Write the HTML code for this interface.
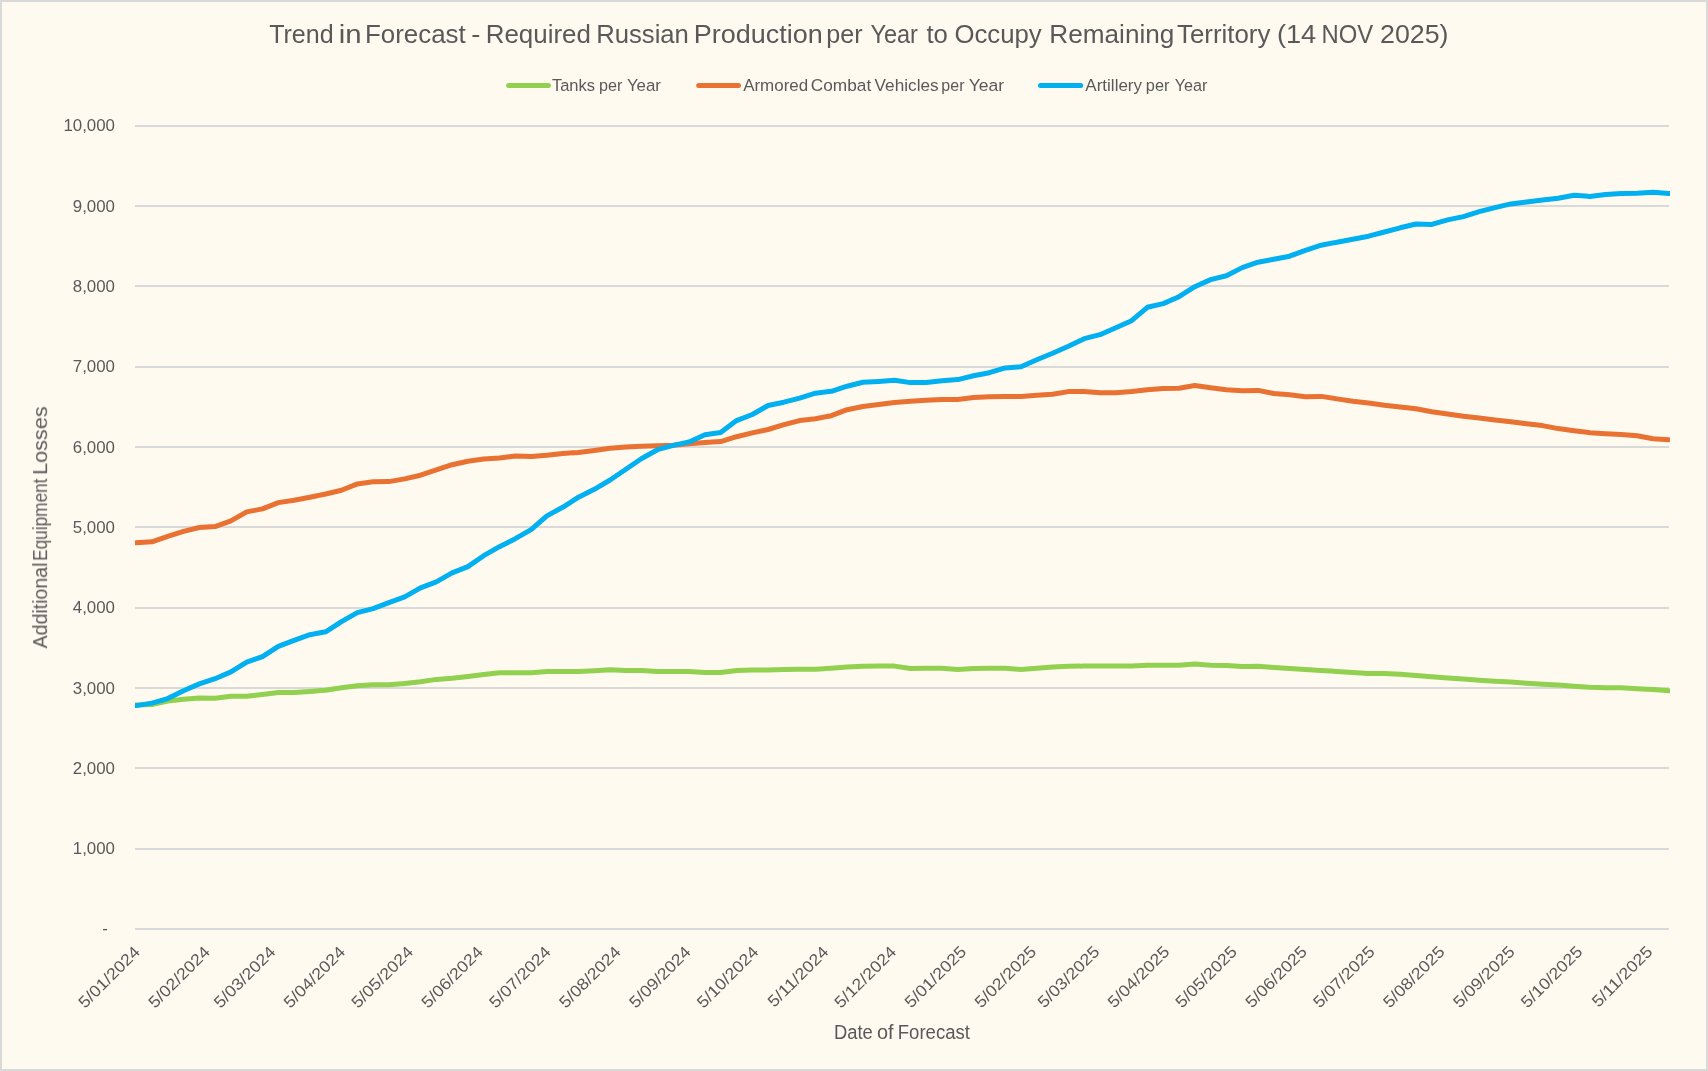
<!DOCTYPE html>
<html lang="en"><head><meta charset="utf-8"><title>Trend in Forecast</title>
<style>
html,body{margin:0;padding:0;background:#FFFAEF;}
body{width:1708px;height:1071px;overflow:hidden;}
svg{display:block;}
text{font-family:"Liberation Sans", sans-serif;fill:#595959;}
.ax{font-size:16.3px;}
.at{font-size:20.0px;}
.ti{font-size:26.6px;}
</style></head><body>
<svg width="1708" height="1071" viewBox="0 0 1708 1071">
<rect x="0" y="0" width="1708" height="1071" fill="#FFFAEF"/>
<rect x="1" y="1" width="1706" height="1069" fill="none" stroke="#D9D9D9" stroke-width="2"/>
<defs><clipPath id="plot"><rect x="135.0" y="100" width="1534.9" height="860"/></clipPath></defs>
<g opacity="0.999">
<text class="ti" y="42.5"><tspan x="269.14" textLength="64.48" lengthAdjust="spacingAndGlyphs">Trend</tspan> <tspan x="338.83" textLength="22.87" lengthAdjust="spacingAndGlyphs">in</tspan> <tspan x="364.98" textLength="100.71" lengthAdjust="spacingAndGlyphs">Forecast</tspan> <tspan x="471.28" textLength="9.14" lengthAdjust="spacingAndGlyphs">-</tspan> <tspan x="485.67" textLength="105.20" lengthAdjust="spacingAndGlyphs">Required</tspan> <tspan x="596.20" textLength="92.67" lengthAdjust="spacingAndGlyphs">Russian</tspan> <tspan x="693.79" textLength="128.96" lengthAdjust="spacingAndGlyphs">Production</tspan> <tspan x="826.28" textLength="36.34" lengthAdjust="spacingAndGlyphs">per</tspan> <tspan x="870.38" textLength="47.51" lengthAdjust="spacingAndGlyphs">Year</tspan> <tspan x="926.41" textLength="21.47" lengthAdjust="spacingAndGlyphs">to</tspan> <tspan x="954.38" textLength="87.37" lengthAdjust="spacingAndGlyphs">Occupy</tspan> <tspan x="1049.35" textLength="125.03" lengthAdjust="spacingAndGlyphs">Remaining</tspan> <tspan x="1177.02" textLength="93.33" lengthAdjust="spacingAndGlyphs">Territory</tspan> <tspan x="1277.02" textLength="39.17" lengthAdjust="spacingAndGlyphs">(14</tspan> <tspan x="1321.44" textLength="51.66" lengthAdjust="spacingAndGlyphs">NOV</tspan> <tspan x="1380.05" textLength="68.40" lengthAdjust="spacingAndGlyphs">2025)</tspan></text>
<line x1="508.6" y1="85.5" x2="548.4" y2="85.5" stroke="#92D050" stroke-width="5.0" stroke-linecap="round"/>
<text class="ax" y="91.0"><tspan x="551.93" textLength="43.17" lengthAdjust="spacingAndGlyphs">Tanks</tspan> <tspan x="599.06" textLength="23.31" lengthAdjust="spacingAndGlyphs">per</tspan> <tspan x="626.93" textLength="34.05" lengthAdjust="spacingAndGlyphs">Year</tspan></text>
<line x1="698.7" y1="85.5" x2="738.5" y2="85.5" stroke="#E97132" stroke-width="5.0" stroke-linecap="round"/>
<text class="ax" y="91.0"><tspan x="743.17" textLength="65.03" lengthAdjust="spacingAndGlyphs">Armored</tspan> <tspan x="810.82" textLength="60.40" lengthAdjust="spacingAndGlyphs">Combat</tspan> <tspan x="874.62" textLength="64.00" lengthAdjust="spacingAndGlyphs">Vehicles</tspan> <tspan x="941.37" textLength="23.10" lengthAdjust="spacingAndGlyphs">per</tspan> <tspan x="968.71" textLength="35.48" lengthAdjust="spacingAndGlyphs">Year</tspan></text>
<line x1="1040.5" y1="85.5" x2="1080.7" y2="85.5" stroke="#00B0F0" stroke-width="5.0" stroke-linecap="round"/>
<text class="ax" y="91.0"><tspan x="1085.37" textLength="56.67" lengthAdjust="spacingAndGlyphs">Artillery</tspan> <tspan x="1145.85" textLength="23.62" lengthAdjust="spacingAndGlyphs">per</tspan> <tspan x="1174.65" textLength="32.62" lengthAdjust="spacingAndGlyphs">Year</tspan></text>
<line x1="135.0" y1="929" x2="1669.0" y2="929" stroke="#D9D9D9" stroke-width="2"/>
<line x1="135.0" y1="849" x2="1669.0" y2="849" stroke="#D9D9D9" stroke-width="2"/>
<line x1="135.0" y1="768" x2="1669.0" y2="768" stroke="#D9D9D9" stroke-width="2"/>
<line x1="135.0" y1="688" x2="1669.0" y2="688" stroke="#D9D9D9" stroke-width="2"/>
<line x1="135.0" y1="608" x2="1669.0" y2="608" stroke="#D9D9D9" stroke-width="2"/>
<line x1="135.0" y1="527" x2="1669.0" y2="527" stroke="#D9D9D9" stroke-width="2"/>
<line x1="135.0" y1="447" x2="1669.0" y2="447" stroke="#D9D9D9" stroke-width="2"/>
<line x1="135.0" y1="367" x2="1669.0" y2="367" stroke="#D9D9D9" stroke-width="2"/>
<line x1="135.0" y1="286" x2="1669.0" y2="286" stroke="#D9D9D9" stroke-width="2"/>
<line x1="135.0" y1="206" x2="1669.0" y2="206" stroke="#D9D9D9" stroke-width="2"/>
<line x1="135.0" y1="126" x2="1669.0" y2="126" stroke="#D9D9D9" stroke-width="2"/>
<text class="ax" y="854.4"><tspan x="72.78" textLength="42.18" lengthAdjust="spacingAndGlyphs">1,000</tspan></text>
<text class="ax" y="774.0"><tspan x="72.78" textLength="42.18" lengthAdjust="spacingAndGlyphs">2,000</tspan></text>
<text class="ax" y="693.7"><tspan x="72.78" textLength="42.18" lengthAdjust="spacingAndGlyphs">3,000</tspan></text>
<text class="ax" y="613.4"><tspan x="72.78" textLength="42.18" lengthAdjust="spacingAndGlyphs">4,000</tspan></text>
<text class="ax" y="533.1"><tspan x="72.78" textLength="42.18" lengthAdjust="spacingAndGlyphs">5,000</tspan></text>
<text class="ax" y="452.7"><tspan x="72.78" textLength="42.18" lengthAdjust="spacingAndGlyphs">6,000</tspan></text>
<text class="ax" y="372.4"><tspan x="72.78" textLength="42.18" lengthAdjust="spacingAndGlyphs">7,000</tspan></text>
<text class="ax" y="292.1"><tspan x="72.78" textLength="42.18" lengthAdjust="spacingAndGlyphs">8,000</tspan></text>
<text class="ax" y="211.7"><tspan x="72.78" textLength="42.18" lengthAdjust="spacingAndGlyphs">9,000</tspan></text>
<text class="ax" y="131.4"><tspan x="63.41" textLength="51.55" lengthAdjust="spacingAndGlyphs">10,000</tspan></text>
<text class="ax" y="934.4"><tspan x="102.15" textLength="5.59" lengthAdjust="spacingAndGlyphs">-</tspan></text>
<polyline clip-path="url(#plot)" fill="none" stroke="#92D050" stroke-width="5.0" stroke-linejoin="round" stroke-linecap="round" points="136.1,704.9 151.9,704.6 167.7,701.1 183.5,699.2 199.3,698.1 215.1,698.3 230.9,696.3 246.7,696.3 262.5,694.4 278.3,692.5 294.1,692.5 309.9,691.4 325.7,690.2 341.5,687.7 357.3,685.7 373.1,684.7 388.9,684.7 404.7,683.6 420.5,681.7 436.3,679.4 452.1,678.2 467.9,676.4 483.7,674.6 499.5,672.7 515.3,672.7 531.1,672.7 546.9,671.6 562.7,671.6 578.5,671.6 594.3,670.7 610.1,669.7 625.9,670.4 641.7,670.4 657.5,671.6 673.3,671.5 689.1,671.5 704.9,672.5 720.7,672.5 736.5,670.4 752.3,670.1 768.1,670.1 783.9,669.5 799.7,669.2 815.5,669.2 831.3,668.2 847.1,667.1 862.9,666.2 878.7,666.1 894.5,666.1 910.4,668.5 926.2,668.3 942.0,668.3 957.8,669.4 973.6,668.5 989.4,668.3 1005.2,668.3 1021.0,669.4 1036.8,668.3 1052.6,667.1 1068.4,666.2 1084.2,666.1 1100.0,666.1 1115.8,666.1 1131.6,666.1 1147.4,665.3 1163.2,665.3 1179.0,665.3 1194.8,664.1 1210.6,665.3 1226.4,665.5 1242.2,666.4 1258.0,666.2 1273.8,667.4 1289.6,668.5 1305.4,669.5 1321.2,670.4 1337.0,671.5 1352.8,672.4 1368.6,673.4 1384.4,673.4 1400.2,674.3 1416.0,675.4 1431.8,676.7 1447.6,677.9 1463.4,679.1 1479.2,680.2 1495.0,681.2 1510.8,682.1 1526.6,683.2 1542.4,684.2 1558.2,685.1 1574.0,686.2 1589.8,687.2 1605.6,687.7 1621.4,687.7 1637.2,688.7 1653.0,689.6 1668.8,690.7"/>
<polyline clip-path="url(#plot)" fill="none" stroke="#E97132" stroke-width="5.0" stroke-linejoin="round" stroke-linecap="round" points="136.1,542.8 151.9,541.8 167.7,536.4 183.5,531.4 199.3,527.5 215.1,526.6 230.9,520.9 246.7,511.9 262.5,508.9 278.3,502.6 294.1,500.3 309.9,497.3 325.7,494.0 341.5,490.2 357.3,483.9 373.1,481.7 388.9,481.6 404.7,478.9 420.5,475.2 436.3,469.9 452.1,464.7 467.9,461.2 483.7,459.1 499.5,457.9 515.3,456.1 531.1,456.4 546.9,455.2 562.7,453.4 578.5,452.4 594.3,450.4 610.1,448.3 625.9,447.1 641.7,446.3 657.5,445.8 673.3,445.2 689.1,443.7 704.9,442.5 720.7,441.6 736.5,436.7 752.3,432.9 768.1,429.5 783.9,424.7 799.7,420.6 815.5,418.7 831.3,415.7 847.1,409.7 862.9,406.5 878.7,404.4 894.5,402.5 910.4,401.2 926.2,400.2 942.0,399.4 957.8,399.4 973.6,397.6 989.4,396.7 1005.2,396.4 1021.0,396.4 1036.8,395.2 1052.6,394.2 1068.4,391.6 1084.2,391.6 1100.0,392.8 1115.8,392.7 1131.6,391.6 1147.4,389.7 1163.2,388.6 1179.0,388.2 1194.8,385.5 1210.6,387.7 1226.4,389.7 1242.2,390.7 1258.0,390.4 1273.8,393.5 1289.6,394.7 1305.4,396.7 1321.2,396.4 1337.0,398.9 1352.8,401.2 1368.6,403.1 1384.4,405.2 1400.2,406.9 1416.0,408.7 1431.8,411.7 1447.6,413.9 1463.4,416.2 1479.2,418.1 1495.0,419.9 1510.8,421.7 1526.6,423.7 1542.4,425.6 1558.2,428.6 1574.0,430.7 1589.8,432.7 1605.6,433.7 1621.4,434.6 1637.2,435.7 1653.0,438.7 1668.8,439.7"/>
<polyline clip-path="url(#plot)" fill="none" stroke="#00B0F0" stroke-width="5.0" stroke-linejoin="round" stroke-linecap="round" points="136.1,705.6 151.9,703.1 167.7,698.6 183.5,690.7 199.3,683.9 215.1,678.7 230.9,671.9 246.7,662.2 262.5,656.6 278.3,646.4 294.1,640.4 309.9,634.7 325.7,631.8 341.5,621.7 357.3,612.7 373.1,608.7 388.9,602.6 404.7,596.9 420.5,587.9 436.3,581.9 452.1,572.9 467.9,566.6 483.7,555.7 499.5,546.7 515.3,538.7 531.1,529.7 546.9,515.9 562.7,507.3 578.5,497.2 594.3,489.3 610.1,480.0 625.9,469.2 641.7,458.5 657.5,449.7 673.3,445.4 689.1,441.9 704.9,434.7 720.7,432.6 736.5,420.6 752.3,414.5 768.1,405.5 783.9,402.2 799.7,398.2 815.5,393.2 831.3,391.3 847.1,386.2 862.9,382.3 878.7,381.4 894.5,380.2 910.4,382.6 926.2,382.6 942.0,380.7 957.8,379.6 973.6,375.7 989.4,372.7 1005.2,367.9 1021.0,366.7 1036.8,359.7 1052.6,353.2 1068.4,346.2 1084.2,338.7 1100.0,334.7 1115.8,327.8 1131.6,320.7 1147.4,307.3 1163.2,303.6 1179.0,296.7 1194.8,286.7 1210.6,279.6 1226.4,275.7 1242.2,267.6 1258.0,262.2 1273.8,259.2 1289.6,256.2 1305.4,250.3 1321.2,245.2 1337.0,242.2 1352.8,239.2 1368.6,236.2 1384.4,232.0 1400.2,227.8 1416.0,224.0 1431.8,224.4 1447.6,219.9 1463.4,216.6 1479.2,211.7 1495.0,207.6 1510.8,203.9 1526.6,201.9 1542.4,200.1 1558.2,198.2 1574.0,195.2 1589.8,196.4 1605.6,194.4 1621.4,193.4 1637.2,193.2 1653.0,192.2 1668.8,193.4"/>
<text class="ax" transform="translate(140.6,953.3) rotate(-45)"><tspan x="-78.81" textLength="79.34" lengthAdjust="spacingAndGlyphs">5/01/2024</tspan></text>
<text class="ax" transform="translate(210.6,953.3) rotate(-45)"><tspan x="-78.81" textLength="79.34" lengthAdjust="spacingAndGlyphs">5/02/2024</tspan></text>
<text class="ax" transform="translate(276.1,953.3) rotate(-45)"><tspan x="-78.81" textLength="79.34" lengthAdjust="spacingAndGlyphs">5/03/2024</tspan></text>
<text class="ax" transform="translate(346.0,953.3) rotate(-45)"><tspan x="-78.81" textLength="79.34" lengthAdjust="spacingAndGlyphs">5/04/2024</tspan></text>
<text class="ax" transform="translate(413.8,953.3) rotate(-45)"><tspan x="-78.81" textLength="79.34" lengthAdjust="spacingAndGlyphs">5/05/2024</tspan></text>
<text class="ax" transform="translate(483.7,953.3) rotate(-45)"><tspan x="-78.81" textLength="79.34" lengthAdjust="spacingAndGlyphs">5/06/2024</tspan></text>
<text class="ax" transform="translate(551.4,953.3) rotate(-45)"><tspan x="-78.81" textLength="79.34" lengthAdjust="spacingAndGlyphs">5/07/2024</tspan></text>
<text class="ax" transform="translate(621.4,953.3) rotate(-45)"><tspan x="-78.81" textLength="79.34" lengthAdjust="spacingAndGlyphs">5/08/2024</tspan></text>
<text class="ax" transform="translate(691.4,953.3) rotate(-45)"><tspan x="-78.81" textLength="79.34" lengthAdjust="spacingAndGlyphs">5/09/2024</tspan></text>
<text class="ax" transform="translate(759.1,953.3) rotate(-45)"><tspan x="-78.81" textLength="79.34" lengthAdjust="spacingAndGlyphs">5/10/2024</tspan></text>
<text class="ax" transform="translate(829.1,953.3) rotate(-45)"><tspan x="-77.49" textLength="78.01" lengthAdjust="spacingAndGlyphs">5/11/2024</tspan></text>
<text class="ax" transform="translate(896.8,953.3) rotate(-45)"><tspan x="-78.81" textLength="79.34" lengthAdjust="spacingAndGlyphs">5/12/2024</tspan></text>
<text class="ax" transform="translate(966.8,953.3) rotate(-45)"><tspan x="-78.59" textLength="79.34" lengthAdjust="spacingAndGlyphs">5/01/2025</tspan></text>
<text class="ax" transform="translate(1036.7,953.3) rotate(-45)"><tspan x="-78.59" textLength="79.34" lengthAdjust="spacingAndGlyphs">5/02/2025</tspan></text>
<text class="ax" transform="translate(1099.9,953.3) rotate(-45)"><tspan x="-78.59" textLength="79.34" lengthAdjust="spacingAndGlyphs">5/03/2025</tspan></text>
<text class="ax" transform="translate(1169.9,953.3) rotate(-45)"><tspan x="-78.59" textLength="79.34" lengthAdjust="spacingAndGlyphs">5/04/2025</tspan></text>
<text class="ax" transform="translate(1237.6,953.3) rotate(-45)"><tspan x="-78.59" textLength="79.34" lengthAdjust="spacingAndGlyphs">5/05/2025</tspan></text>
<text class="ax" transform="translate(1307.6,953.3) rotate(-45)"><tspan x="-78.59" textLength="79.34" lengthAdjust="spacingAndGlyphs">5/06/2025</tspan></text>
<text class="ax" transform="translate(1375.3,953.3) rotate(-45)"><tspan x="-78.59" textLength="79.34" lengthAdjust="spacingAndGlyphs">5/07/2025</tspan></text>
<text class="ax" transform="translate(1445.3,953.3) rotate(-45)"><tspan x="-78.59" textLength="79.34" lengthAdjust="spacingAndGlyphs">5/08/2025</tspan></text>
<text class="ax" transform="translate(1515.3,953.3) rotate(-45)"><tspan x="-78.59" textLength="79.34" lengthAdjust="spacingAndGlyphs">5/09/2025</tspan></text>
<text class="ax" transform="translate(1583.0,953.3) rotate(-45)"><tspan x="-78.59" textLength="79.34" lengthAdjust="spacingAndGlyphs">5/10/2025</tspan></text>
<text class="ax" transform="translate(1653.0,953.3) rotate(-45)"><tspan x="-77.26" textLength="78.01" lengthAdjust="spacingAndGlyphs">5/11/2025</tspan></text>
<text class="at" y="1038.7"><tspan x="833.99" textLength="38.82" lengthAdjust="spacingAndGlyphs">Date</tspan> <tspan x="877.06" textLength="16.61" lengthAdjust="spacingAndGlyphs">of</tspan> <tspan x="897.78" textLength="72.16" lengthAdjust="spacingAndGlyphs">Forecast</tspan></text>
<text class="at" y="0" transform="translate(47.1,648.4) rotate(-90)"><tspan x="-0.04" textLength="85.85" lengthAdjust="spacingAndGlyphs">Additional</tspan> <tspan x="87.59" textLength="82.24" lengthAdjust="spacingAndGlyphs">Equipment</tspan> <tspan x="173.42" textLength="68.66" lengthAdjust="spacingAndGlyphs">Losses</tspan></text>
</g>
</svg>
</body></html>
